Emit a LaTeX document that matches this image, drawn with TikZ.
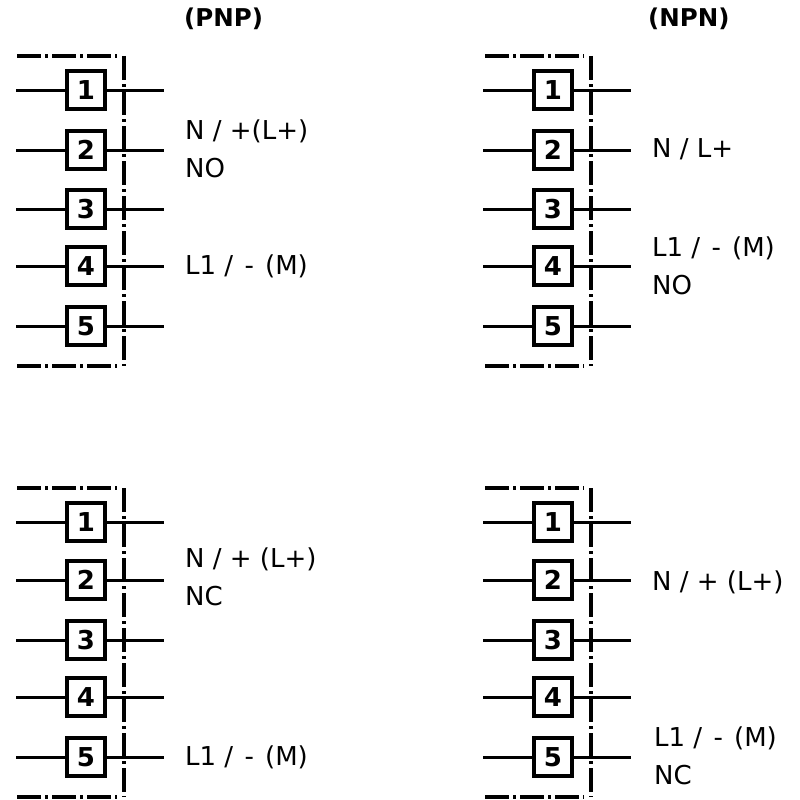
\documentclass[tikz,border=0pt]{standalone}
\usepackage{fontspec}
\setmainfont{DejaVu Sans}
\newcommand{\lonetext}{L1 /\kern3pt{} -\kern3pt{} (M)}
\begin{document}
\begin{tikzpicture}[x=1pt,y=-1pt,
    pinbox/.style={shape=rectangle,draw=black,line width=3.4pt,fill=white,minimum size=38pt,inner sep=0pt,font=\bfseries\fontsize{26}{26}\selectfont},
    wire/.style={line width=3pt},
    frameline/.style={line width=3.4pt,dash pattern=on 24pt off 4pt on 3pt off 4pt},
    lbl/.style={anchor=west,align=left,inner sep=0pt,font=\fontsize{26}{38}\selectfont},
    title/.style={anchor=west,inner sep=0pt,font=\bfseries\fontsize{24.5}{24}\selectfont}]

    \useasboundingbox (0,0) rectangle (800,800);

    \coordinate (fa1) at (17,56);
    \coordinate (fa2) at (117,56);
    \coordinate (fa3) at (124,56);
    \coordinate (fa4) at (124,366);
    \coordinate (fa5) at (17,366);
    \coordinate (fa6) at (117,366);
    \coordinate (fb1) at (485,56);
    \coordinate (fb2) at (584,56);
    \coordinate (fb3) at (591,56);
    \coordinate (fb4) at (591,366);
    \coordinate (fb5) at (485,366);
    \coordinate (fb6) at (584,366);
    \coordinate (fc1) at (17,488);
    \coordinate (fc2) at (117,488);
    \coordinate (fc3) at (124,488);
    \coordinate (fc4) at (124,797);
    \coordinate (fc5) at (17,797);
    \coordinate (fc6) at (117,797);
    \coordinate (fd1) at (485,488);
    \coordinate (fd2) at (584,488);
    \coordinate (fd3) at (591,488);
    \coordinate (fd4) at (591,797);
    \coordinate (fd5) at (485,797);
    \coordinate (fd6) at (584,797);

    \draw[frameline] (fa1) -- (fa2);
    \draw[frameline] (fa3) -- (fa4);
    \draw[frameline] (fa5) -- (fa6);
    \draw[frameline] (fb1) -- (fb2);
    \draw[frameline] (fb3) -- (fb4);
    \draw[frameline] (fb5) -- (fb6);
    \draw[frameline] (fc1) -- (fc2);
    \draw[frameline] (fc3) -- (fc4);
    \draw[frameline] (fc5) -- (fc6);
    \draw[frameline] (fd1) -- (fd2);
    \draw[frameline] (fd3) -- (fd4);
    \draw[frameline] (fd5) -- (fd6);

    \node[pinbox] (a1) at (86,90) {1};
    \node[pinbox] (a2) at (86,150) {2};
    \node[pinbox] (a3) at (86,209) {3};
    \node[pinbox] (a4) at (86,266) {4};
    \node[pinbox] (a5) at (86,326) {5};
    \node[pinbox] (b1) at (553,90) {1};
    \node[pinbox] (b2) at (553,150) {2};
    \node[pinbox] (b3) at (553,209) {3};
    \node[pinbox] (b4) at (553,266) {4};
    \node[pinbox] (b5) at (553,326) {5};
    \node[pinbox] (c1) at (86,522) {1};
    \node[pinbox] (c2) at (86,580) {2};
    \node[pinbox] (c3) at (86,640) {3};
    \node[pinbox] (c4) at (86,697) {4};
    \node[pinbox] (c5) at (86,757) {5};
    \node[pinbox] (d1) at (553,522) {1};
    \node[pinbox] (d2) at (553,580) {2};
    \node[pinbox] (d3) at (553,640) {3};
    \node[pinbox] (d4) at (553,697) {4};
    \node[pinbox] (d5) at (553,757) {5};

    \coordinate (a1l) at (16,90);
    \coordinate (a2l) at (16,150);
    \coordinate (a3l) at (16,209);
    \coordinate (a4l) at (16,266);
    \coordinate (a5l) at (16,326);
    \coordinate (a1r) at (164,90);
    \coordinate (a2r) at (164,150);
    \coordinate (a3r) at (164,209);
    \coordinate (a4r) at (164,266);
    \coordinate (a5r) at (164,326);
    \coordinate (b1l) at (483,90);
    \coordinate (b2l) at (483,150);
    \coordinate (b3l) at (483,209);
    \coordinate (b4l) at (483,266);
    \coordinate (b5l) at (483,326);
    \coordinate (b1r) at (631,90);
    \coordinate (b2r) at (631,150);
    \coordinate (b3r) at (631,209);
    \coordinate (b4r) at (631,266);
    \coordinate (b5r) at (631,326);
    \coordinate (c1l) at (16,522);
    \coordinate (c2l) at (16,580);
    \coordinate (c3l) at (16,640);
    \coordinate (c4l) at (16,697);
    \coordinate (c5l) at (16,757);
    \coordinate (c1r) at (164,522);
    \coordinate (c2r) at (164,580);
    \coordinate (c3r) at (164,640);
    \coordinate (c4r) at (164,697);
    \coordinate (c5r) at (164,757);
    \coordinate (d1l) at (483,522);
    \coordinate (d2l) at (483,580);
    \coordinate (d3l) at (483,640);
    \coordinate (d4l) at (483,697);
    \coordinate (d5l) at (483,757);
    \coordinate (d1r) at (631,522);
    \coordinate (d2r) at (631,580);
    \coordinate (d3r) at (631,640);
    \coordinate (d4r) at (631,697);
    \coordinate (d5r) at (631,757);

    \draw[wire] (a1l) -- (a1) (a1) -- (a1r);
    \draw[wire] (a2l) -- (a2) (a2) -- (a2r);
    \draw[wire] (a3l) -- (a3) (a3) -- (a3r);
    \draw[wire] (a4l) -- (a4) (a4) -- (a4r);
    \draw[wire] (a5l) -- (a5) (a5) -- (a5r);
    \draw[wire] (b1l) -- (b1) (b1) -- (b1r);
    \draw[wire] (b2l) -- (b2) (b2) -- (b2r);
    \draw[wire] (b3l) -- (b3) (b3) -- (b3r);
    \draw[wire] (b4l) -- (b4) (b4) -- (b4r);
    \draw[wire] (b5l) -- (b5) (b5) -- (b5r);
    \draw[wire] (c1l) -- (c1) (c1) -- (c1r);
    \draw[wire] (c2l) -- (c2) (c2) -- (c2r);
    \draw[wire] (c3l) -- (c3) (c3) -- (c3r);
    \draw[wire] (c4l) -- (c4) (c4) -- (c4r);
    \draw[wire] (c5l) -- (c5) (c5) -- (c5r);
    \draw[wire] (d1l) -- (d1) (d1) -- (d1r);
    \draw[wire] (d2l) -- (d2) (d2) -- (d2r);
    \draw[wire] (d3l) -- (d3) (d3) -- (d3r);
    \draw[wire] (d4l) -- (d4) (d4) -- (d4r);
    \draw[wire] (d5l) -- (d5) (d5) -- (d5r);

    \node[title] (pnp) at (184,19) {(PNP)};
    \node[title] (npn) at (648,19) {(NPN)};

    \node[lbl] (al1) at (185,149) {N / +(L+)\\NO};
    \node[lbl] (al2) at (185,266) {\lonetext};
    \node[lbl] (bl1) at (652,149) {N / L+};
    \node[lbl] (bl2) at (652,266) {\lonetext\\NO};
    \node[lbl] (cl1) at (185,577) {N / + (L+)\\NC};
    \node[lbl] (cl2) at (185,757) {\lonetext};
    \node[lbl] (dl1) at (652,582) {N / + (L+)};
    \node[lbl] (dl2) at (654,756) {\lonetext\\NC};

\end{tikzpicture}
\end{document}
